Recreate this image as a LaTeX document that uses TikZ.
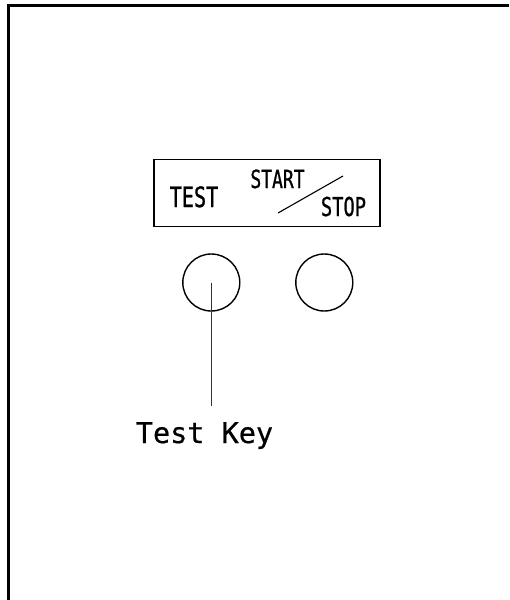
\documentclass[tikz,border=0pt]{standalone}
\usepackage{fontspec}
\newfontfamily\keyfont[FakeBold=0.6]{DejaVu Sans Mono}
\newfontfamily\panelfont[FakeStretch=0.72, FakeBold=0.8]{DejaVu Sans Mono}
\usetikzlibrary{positioning}

\begin{document}
\begin{tikzpicture}[x=1pt, y=-1pt]

	\useasboundingbox (0, 0) rectangle (509, 600);

	% outer frame
	\draw[line width=3pt, black] (8.5, 600) -- (8.5, 5.5) -- (509, 5.5);

	% label panel
	\draw[line width=1.4pt, black] (154, 159.5) rectangle (380, 226.5);

	\node[anchor=base, inner sep=0] (test) at (194, 207) {\panelfont\fontsize{28}{28}\selectfont TEST};
	\node[anchor=base, inner sep=0] (start) at (277.5, 188) {\panelfont\fontsize{25}{25}\selectfont START};
	\node[anchor=base, inner sep=0] (stop) at (343.5, 216) {\panelfont\fontsize{26}{26}\selectfont STOP};

	\coordinate (slashlow) at (278, 213);
	\coordinate (slashhigh) at (343, 176);
	\draw[line width=1.1pt, black] (slashlow) -- (slashhigh);

	% keys
	\node[draw, circle, line width=1.4pt, minimum size=57pt, inner sep=0] (testbtn) at (211.3, 282.5) {};
	\node[draw, circle, line width=1.4pt, minimum size=57pt, inner sep=0] (startbtn) at (324.3, 282.5) {};

	% callout
	\node[anchor=base, inner sep=0] (keylabel) at (204.5, 443) {\keyfont\fontsize{28.5}{28.5}\selectfont Test Key};
	\coordinate (keyend) at (211.3, 406);
	\draw[line width=0.8pt, black!80] (testbtn.center) -- (keyend);

\end{tikzpicture}
\end{document}
